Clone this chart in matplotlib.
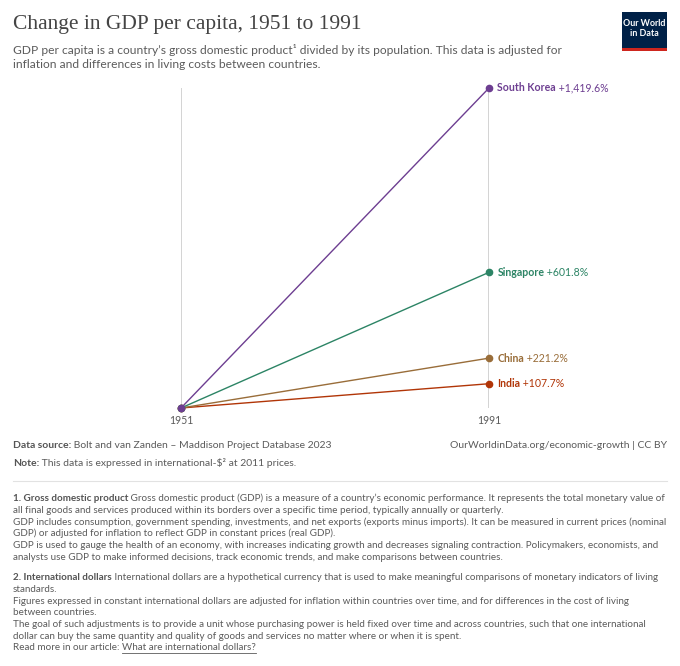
import matplotlib
matplotlib.use("Agg")
import matplotlib.pyplot as plt
from matplotlib.offsetbox import TextArea, HPacker, AnnotationBbox
from matplotlib.patches import Rectangle
from matplotlib.lines import Line2D

# ======================================
# Data
# ======================================

years = [1951, 1991]
countries = ["India", "China", "Singapore", "South Korea"]
change_pct = [107.7, 221.2, 601.8, 1419.6]
labels = ["+107.7%", "+221.2%", "+601.8%", "+1,419.6%"]
colors = ["#B13507", "#996D39", "#2C8465", "#6D3E91"]

W, H = 680, 666
BODY = "Lato"
GREY = "#5b5b5b"
DARK = "#555555"

fig = plt.figure(figsize=(W / 100, H / 100), dpi=100)
fig.patch.set_facecolor("white")
renderer = fig.canvas.get_renderer()


def rich(x, y, parts, size):
    # draw text pieces one after another, x/y in pixels from top-left
    cur = x
    for text, weight, color in parts:
        t = fig.text(cur / W, 1 - y / H, text, fontfamily=BODY, fontsize=size,
                     fontweight=weight, color=color, va="center_baseline")
        cur += t.get_window_extent(renderer).width
    return cur


# ======================================
# Header
# ======================================

fig.text(13 / W, 1 - 24 / H, "Change in GDP per capita, 1951 to 1991",
         fontfamily="Liberation Serif", fontsize=15.5, color="#444444", va="center")

rich(13, 49, [("GDP per capita is a country\u2019s gross domestic product\u00b9 divided by its "
               "population. This data is adjusted for", "normal", GREY)], 8.65)
rich(13, 64, [("inflation and differences in living costs between countries.", "normal", GREY)], 8.65)

# logo
fig.add_artist(Rectangle((622 / W, 1 - 51 / H), 45 / W, 39 / H,
                         transform=fig.transFigure, facecolor="#002147", edgecolor="none"))
fig.add_artist(Rectangle((622 / W, 1 - 51 / H), 45 / W, 3 / H,
                         transform=fig.transFigure, facecolor="#CE261E", edgecolor="none"))
fig.text(644.5 / W, 1 - 24 / H, "Our World", fontfamily=BODY, fontsize=6.4,
         fontweight="bold", color="white", ha="center", va="center")
fig.text(644.5 / W, 1 - 34 / H, "in Data", fontfamily=BODY, fontsize=6.4,
         fontweight="bold", color="white", ha="center", va="center")

# ======================================
# Slope chart
# ======================================

ax = fig.add_axes([181 / W, 1 - 408 / H, 308 / W, 320 / H])
ax.set_xlim(years[0], years[1])
ax.set_ylim(0, max(change_pct))
ax.axis("off")

for yr in years:
    ax.axvline(yr, color="#cccccc", linewidth=1.2, zorder=1)
    ax.text(yr, -12 / 320 * max(change_pct), str(yr), fontfamily=BODY, fontsize=7.6,
            color=GREY, ha="center", va="center")

for name, val, lab, col in zip(countries, change_pct, labels, colors):
    ax.plot(years, [0, val], color=col, linewidth=1.0, marker="o",
            markersize=4.5, clip_on=False, zorder=3)
    ab = AnnotationBbox(
        HPacker(children=[
            TextArea(name, textprops=dict(fontfamily=BODY, fontsize=7.6,
                                          fontweight="bold", color=col)),
            TextArea(" " + lab, textprops=dict(fontfamily=BODY, fontsize=7.6,
                                               color=col)),
        ], pad=0, sep=0, align="baseline"),
        (years[1], val), xycoords="data", xybox=(6, 0), boxcoords="offset points",
        box_alignment=(0, 0.5), frameon=False, pad=0, annotation_clip=False)
    ax.add_artist(ab)

# ======================================
# Footer
# ======================================

SRC = 7.45
rich(13, 444, [("Data source:", "bold", DARK),
               (" Bolt and van Zanden \u2013 Maddison Project Database 2023", "normal", GREY)], SRC)
rich(13, 462, [("Note:", "bold", DARK),
               (" This data is expressed in international-$\u00b2 at 2011 prices.", "normal", GREY)], SRC)
fig.text(667 / W, 1 - 444 / H, "OurWorldinData.org/economic-growth | CC BY",
         fontfamily=BODY, fontsize=SRC, color=GREY, ha="right", va="center_baseline")

fig.add_artist(Line2D([13 / W, 667 / W], [1 - 481 / H, 1 - 481 / H],
                      transform=fig.transFigure, color="#e2e2e2", linewidth=0.8))

FS = 7.1
note1 = [
    [("1. Gross domestic product", "bold", DARK),
     (" Gross domestic product (GDP) is a measure of a country\u2019s economic performance. "
      "It represents the total monetary value of", "normal", GREY)],
    [("all final goods and services produced within its borders over a specific time period, "
      "typically annually or quarterly.", "normal", GREY)],
    [("GDP includes consumption, government spending, investments, and net exports "
      "(exports minus imports). It can be measured in current prices (nominal", "normal", GREY)],
    [("GDP) or adjusted for inflation to reflect GDP in constant prices (real GDP).", "normal", GREY)],
    [("GDP is used to gauge the health of an economy, with increases indicating growth and "
      "decreases signaling contraction. Policymakers, economists, and", "normal", GREY)],
    [("analysts use GDP to make informed decisions, track economic trends, and make "
      "comparisons between countries.", "normal", GREY)],
]
note2 = [
    [("2. International dollars", "bold", DARK),
     (" International dollars are a hypothetical currency that is used to make meaningful "
      "comparisons of monetary indicators of living", "normal", GREY)],
    [("standards.", "normal", GREY)],
    [("Figures expressed in constant international dollars are adjusted for inflation within "
      "countries over time, and for differences in the cost of living", "normal", GREY)],
    [("between countries.", "normal", GREY)],
    [("The goal of such adjustments is to provide a unit whose purchasing power is held fixed "
      "over time and across countries, such that one international", "normal", GREY)],
    [("dollar can buy the same quantity and quality of goods and services no matter where "
      "or when it is spent.", "normal", GREY)],
]
LINE = 11.7
for i, parts in enumerate(note1):
    rich(13, 497.5 + i * LINE, parts, FS)
for i, parts in enumerate(note2):
    rich(13, 576.7 + i * LINE, parts, FS)

# last line with underlined link
y_last = 576.7 + 6 * LINE
x0 = rich(13, y_last, [("Read more in our article: ", "normal", GREY)], FS)
x1 = rich(x0, y_last, [("What are international dollars?", "normal", GREY)], FS)
fig.add_artist(Line2D([x0 / W, x1 / W], [1 - (y_last + 6) / H, 1 - (y_last + 6) / H],
                      transform=fig.transFigure, color=GREY, linewidth=0.6))

fig.savefig("out.png", dpi=100)
